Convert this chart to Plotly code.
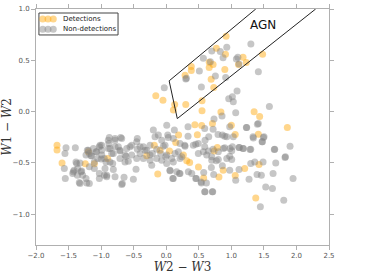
import plotly.graph_objects as go

# ---- data ----
det_w23 = [-0.16, -0.05, 0.13, 0.11, 0.30, 0.55, 0.55, 0.84, 0.92, 0.77, 0.91, 0.385, 0.385, 0.29,
           0.66, 0.66, 0.72, 0.90, 0.69, 1.18, 1.23, 1.11, 1.48, 0.73, 1.35, 1.435, 0.44, 0.545,
           0.71, 1.00, 1.86, 0.478, 0.19, 1.06, 1.415, 0.785, 0.735, 0.36, 0.315, 0.263, 0.495,
           0.575, 0.81, 0.875, 1.06, 1.205, 1.425, 1.375, -1.677, -1.677, -1.60, -1.243, -1.104,
           -0.90, -1.196, -0.183, -0.30, -0.13, 0.146, 0.05, -0.095]
det_w12 = [0.155, 0.11, 0.07, 0.015, 0.07, 0.105, 0.008, -0.005, 0.735, 0.617, 0.56, 0.44, 0.40, 0.355,
           0.48, 0.43, 0.46, 0.41, 0.315, 0.53, 0.478, 0.46, 0.558, 0.236, -0.002, -0.048, -0.128, -0.135,
           -0.115, -0.132, -0.154, -0.226, -0.229, -0.223, -0.22, -0.35, -0.385, -0.496, -0.48, -0.424, -0.54,
           -0.648, -0.637, -0.571, -0.623, -0.554, -0.515, -0.841, -0.327, -0.373, -0.502, -0.509, -0.509,
           -0.457, -0.392, -0.327, -0.431, -0.607, -0.30, -0.385, -0.376]

non_w23 = [-0.03, 0.30, 0.31, 0.509, 0.57, 0.70, 0.83, 0.93, 0.755, 0.913, 0.678, 0.873, 1.077, 1.10,
           1.118, 1.30, 1.415, 0.54, 1.088, 1.016, 0.96, 1.03, 1.584, 1.067, 0.734, 0.857, 0.335, 0.591,
           0.72, 0.975, 1.231, 1.40, 1.502, 1.333, 1.477, 0.796, 0.862, 0.898, 0.653, 0.335, -0.198,
           -0.121, 0.008, 0.023, 0.125, -0.874, -0.786, -0.699, -0.444,
           1.03, 0.493, 0.596, 0.416, 0.032, 0.109, 0.212, 0.289, 0.186, 0.238, 0.084, 0.007, 0.058,
           0.161, 0.109, 0.212, 0.34, 0.392, 0.453, 0.535, 0.596, 0.714, 0.622, 0.699, 0.80, 0.93, 1.006,
           0.647, 0.57, 0.493, 0.93, 0.877, 0.98, 0.80, 0.699,
           -0.889, -0.786, -0.684, -0.991, -0.99, -0.889, -0.786, -0.71, -0.607, -0.53, -0.453, -0.402,
           -0.326, -0.249, -0.172, -0.069, -0.018, 0.008, -0.069, -0.146, -0.249, -0.223, -0.351, -0.453,
           -0.53, -0.633, -0.71, -0.812, -0.99, -0.94, -0.914, -0.786, -0.684, -0.505, -0.464,
           -1.539, -1.396, -1.555, -1.196, -1.232, -1.155, -1.078, -1.027, -1.053, -1.104, -1.386, -1.36,
           -1.427, -1.309, -1.283, -1.232, -1.181, -1.335, -1.565, -1.55, -1.027, -1.027, -1.104, -1.181,
           -0.951, -0.951,
           -1.375, -1.416, -1.436, -1.365, -1.324, -1.324, -1.298, -1.221, -1.212, -1.181, -1.145, -1.119,
           -1.068, -1.017, -1.0, -0.914, -0.88, -0.863, -0.837, -0.863, -0.925, -0.822, -0.812, -0.735,
           -0.71, -0.674, -0.648, -0.633, -0.618, -0.582, -0.556, -0.444, -0.402, -0.351, -0.30, -0.249,
           -0.213, -0.146, -0.085, -0.045, -0.008, 0.058, 0.109, 0.135, 0.212, 0.202, 0.10,
           0.284, 0.453, 0.591, 0.719, 0.898, 1.016, 1.118, 1.18, 1.298, 1.472, 1.666, 1.902, 1.83, 1.682,
           1.487, 1.36, 1.298, 1.118, 0.975, 0.975, 0.862, 0.77, 0.693, 0.729, 0.576, 0.463, 0.54, 0.617,
           0.591, 0.708, 1.067, 1.272, 1.395, 1.461, 1.641, 1.528, 1.631, 1.805, 1.446, 1.948,
           1.236, 1.415, 1.338, 1.492, 1.66, 1.825, 1.123, 1.185, 1.287, 1.006]
non_w12 = [0.232, 0.317, 0.325, 0.395, 0.519, 0.59, 0.585, 0.627, 0.346, 0.333, 0.486, 0.525, 0.512, 0.53,
           0.463, 0.66, 0.388, 0.239, 0.20, 0.145, 0.125, 0.096, 0.051, -0.012, -0.073, -0.044, -0.148, -0.164,
           -0.171, -0.148, -0.154, -0.122, -0.246, -0.246, -0.294, -0.223, -0.229, -0.239, -0.246, -0.239, -0.18,
           -0.229, -0.132, -0.229, -0.18, -0.252, -0.262, -0.252, -0.262,
           -0.246, -0.31, -0.278, -0.327, -0.252, -0.262, -0.31, -0.337, -0.392, -0.441, -0.457, -0.505, -0.577,
           -0.587, -0.652, -0.603, -0.587, -0.603, -0.652, -0.685, -0.782, -0.782, -0.424, -0.473, -0.467, -0.457, -0.467,
           -0.385, -0.392, -0.408, -0.246, -0.36, -0.36, -0.392, -0.44,
           -0.278, -0.278, -0.262, -0.327, -0.376, -0.36, -0.343, -0.376, -0.36, -0.327, -0.294, -0.343,
           -0.376, -0.424, -0.246, -0.278, -0.327, -0.424, -0.473, -0.457, -0.473, -0.522, -0.457, -0.457,
           -0.424, -0.424, -0.457, -0.408, -0.424, -0.554, -0.636, -0.636, -0.71, -0.659, -0.561,
           -0.353, -0.353, -0.408, -0.376, -0.424, -0.431, -0.392, -0.343, -0.457, -0.49, -0.49, -0.554,
           -0.587, -0.587, -0.62, -0.652, -0.70, -0.69, -0.554, -0.652, -0.603, -0.652, -0.554, -0.538,
           -0.457, -0.62,
           -0.506, -0.571, -0.603, -0.62, -0.70, -0.50, -0.58, -0.695, -0.376, -0.408, -0.43, -0.359,
           -0.392, -0.327, -0.463, -0.62, -0.31, -0.36, -0.408, -0.49, -0.49, -0.505, -0.564, -0.343,
           -0.385, -0.70, -0.64, -0.49, -0.435, -0.483, -0.343, -0.368, -0.408, -0.343, -0.376, -0.327,
           -0.408, -0.366, -0.408, -0.337, -0.44, -0.571, -0.49, -0.408, -0.457, -0.603, -0.652,
           -0.327, -0.317, -0.343, -0.366, -0.353, -0.343, -0.35, -0.36, -0.366, -0.294, -0.366, -0.337, -0.44, -0.50,
           -0.49, -0.49, -0.505, -0.564, -0.571, -0.434, -0.528, -0.48, -0.544, -0.613, -0.593, -0.652, -0.695, -0.695,
           -0.782, -0.782, -0.668, -0.659, -0.613, -0.62, -0.603, -0.734, -0.75, -0.863, -0.928, -0.652,
           -0.156, -0.115, -0.256, -0.252, -0.369, -0.447, -0.349, -0.359, -0.369, -0.382]

agn_x = [1.375, 0.045, 0.17, 2.295]
agn_y = [1.0, 0.30, -0.068, 1.0]

legend_labels = ["Detections", "Non-detections"]
det_color = "rgba(255,165,0,0.45)"
non_color = "rgba(128,128,128,0.45)"

fig = go.Figure()
fig.add_trace(go.Scatter(x=det_w23, y=det_w12, mode="markers", name=legend_labels[0],
                         marker=dict(size=7, color=det_color, line=dict(width=0)), showlegend=False))
fig.add_trace(go.Scatter(x=non_w23, y=non_w12, mode="markers", name=legend_labels[1],
                         marker=dict(size=7, color=non_color, line=dict(width=0)), showlegend=False))
fig.add_trace(go.Scatter(x=agn_x, y=agn_y, mode="lines", line=dict(color="#222", width=1),
                         showlegend=False, hoverinfo="skip"))

fig.add_annotation(x=1.49, y=0.84, text="AGN", showarrow=False,
                   font=dict(family="DejaVu Sans", size=12, color="#111"))

# custom matplotlib-like legend
shapes = [dict(type="rect", xref="paper", yref="paper", x0=0.010, x1=0.280, y0=0.89, y1=0.983,
               line=dict(color="#444", width=1), fillcolor="white", layer="below")]
rows = [(0.958, det_color), (0.914, non_color)]
for yy, col in rows:
    for xx in (0.023, 0.041, 0.059):
        shapes.append(dict(type="circle", xref="paper", yref="paper", xsizemode="pixel", ysizemode="pixel",
                           xanchor=xx, yanchor=yy, x0=-3.5, x1=3.5, y0=-3.5, y1=3.5,
                           fillcolor=col, line=dict(width=0)))
for (yy, col), lab in zip(rows, legend_labels):
    fig.add_annotation(xref="paper", yref="paper", x=0.086, y=yy, text=lab, showarrow=False,
                       xanchor="left", yanchor="middle", font=dict(family="DejaVu Sans", size=7, color="#222"))

axis_common = dict(showline=True, linecolor="#b0b0b0", linewidth=1, mirror="ticks", ticks="outside",
                   ticklen=4, tickcolor="#b0b0b0", showgrid=False, zeroline=False, automargin=False,
                   tickfont=dict(family="DejaVu Sans", size=7, color="#555"), tickformat=".1f")

fig.update_layout(
    width=367, height=275, margin=dict(l=36, r=38, t=9, b=30),
    paper_bgcolor="white", plot_bgcolor="white", shapes=shapes,
    xaxis=dict(range=[-2.0, 2.5], dtick=0.5, tick0=-2.0,
               title=dict(text="<i>W</i>2 − <i>W</i>3", standoff=1,
                          font=dict(family="DejaVu Serif", size=12, color="#333")), **axis_common),
    yaxis=dict(range=[-1.3, 1.0], tickvals=[-1.0, -0.5, 0.0, 0.5, 1.0],
               title=dict(text="<i>W</i>1 − <i>W</i>2", standoff=1,
                          font=dict(family="DejaVu Serif", size=12, color="#333")), **axis_common),
)

fig.write_html("out.html", config={"displayModeBar": False},
               post_script="document.body.style.margin='0';")
